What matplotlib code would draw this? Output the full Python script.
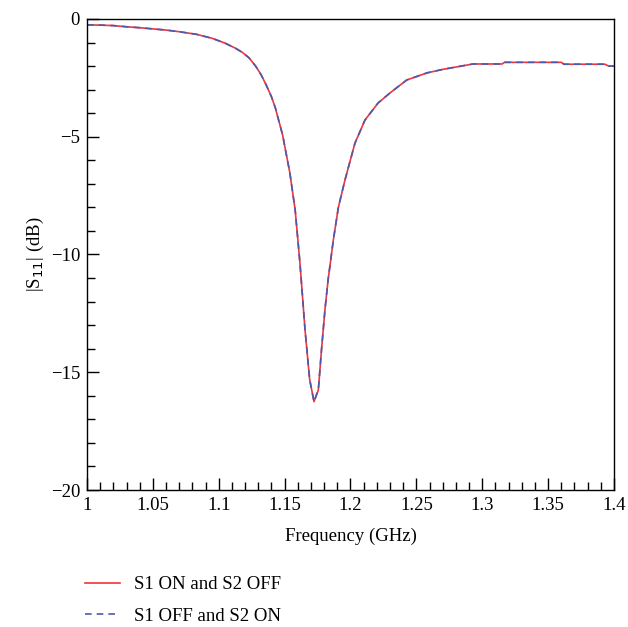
import numpy as np
import matplotlib
matplotlib.use("Agg")
import matplotlib.pyplot as plt
from matplotlib.ticker import MultipleLocator, FuncFormatter

# frequency (GHz) and |S11| (dB)
freq = [1.000, 1.010, 1.020, 1.030, 1.040, 1.050, 1.060, 1.070, 1.083, 1.095,
        1.105, 1.113, 1.118, 1.123, 1.128, 1.132, 1.136, 1.140, 1.143, 1.1485,
        1.154, 1.158, 1.1617, 1.1655, 1.169, 1.1723, 1.1756, 1.178, 1.1806, 1.183,
        1.187, 1.1908, 1.1958, 1.2034, 1.211, 1.2209, 1.230, 1.2427, 1.258, 1.270,
        1.293, 1.315, 1.317, 1.360, 1.362, 1.393, 1.396, 1.400]

s1_on_s2_off = [-0.25, -0.26, -0.28, -0.33, -0.37, -0.42, -0.47, -0.54, -0.65, -0.82,
                -1.03, -1.25, -1.42, -1.65, -2.00, -2.35, -2.80, -3.30, -3.78, -4.93,
                -6.54, -8.10, -10.4, -13.2, -15.3, -16.25, -15.75, -14.05, -12.36, -11.08,
                -9.38, -8.00, -6.84, -5.27, -4.29, -3.57, -3.14, -2.59, -2.29, -2.14,
                -1.91, -1.91, -1.84, -1.84, -1.92, -1.92, -2.00, -2.00]

s1_off_s2_on = [-0.25, -0.26, -0.28, -0.33, -0.37, -0.42, -0.47, -0.54, -0.65, -0.82,
                -1.03, -1.25, -1.42, -1.65, -2.00, -2.35, -2.80, -3.30, -3.78, -4.93,
                -6.54, -8.10, -10.4, -13.2, -15.3, -16.25, -15.75, -14.05, -12.36, -11.08,
                -9.38, -8.00, -6.84, -5.27, -4.29, -3.57, -3.14, -2.59, -2.29, -2.14,
                -1.91, -1.91, -1.84, -1.84, -1.92, -1.92, -2.00, -2.00]

labels = ["S1 ON and S2 OFF", "S1 OFF and S2 ON"]

plt.rcParams['font.family'] = ['Liberation Serif', 'DejaVu Serif']
fs = 13.5

fig = plt.figure(figsize=(6.28, 6.27), dpi=100)
ax = fig.add_axes([0.1385, 0.2185, 0.8392, 0.7512])

l1, = ax.plot(freq, s1_on_s2_off, color='#f0353b', linewidth=1.2, linestyle='-')
l2, = ax.plot(freq, s1_off_s2_on, color='#4a5ab0', linewidth=1.2, linestyle=(0, (4, 3)))

ax.set_xlim(1.0, 1.4)
ax.set_ylim(-20, 0)
ax.xaxis.set_major_locator(MultipleLocator(0.05))
ax.xaxis.set_minor_locator(MultipleLocator(0.01))
ax.yaxis.set_major_locator(MultipleLocator(5))
ax.yaxis.set_minor_locator(MultipleLocator(1))
ax.xaxis.set_major_formatter(FuncFormatter(lambda v, p: ('%.2f' % v).rstrip('0').rstrip('.')))
ax.yaxis.set_major_formatter(FuncFormatter(lambda v, p: ('%d' % round(v)).replace('-', '\u2212')))

ax.tick_params(which='both', direction='in', top=False, right=False, labelsize=fs)
ax.tick_params(which='major', length=8.5, width=1.0, pad=5)
ax.tick_params(which='minor', length=5.5, width=1.0)
for sp in ax.spines.values():
    sp.set_linewidth(1.0)

ax.set_xlabel('Frequency (GHz)', fontsize=fs, labelpad=10)
ax.set_ylabel('|S$_{11}$| (dB)', fontsize=fs, labelpad=3)

fig.legend([l1, l2], labels, loc='upper left', bbox_to_anchor=(0.135, 0.081),
           frameon=False, fontsize=fs, handlelength=1.9, handletextpad=0.7,
           labelspacing=0.75, borderpad=0, borderaxespad=0)

fig.savefig('out.png', dpi=100)
